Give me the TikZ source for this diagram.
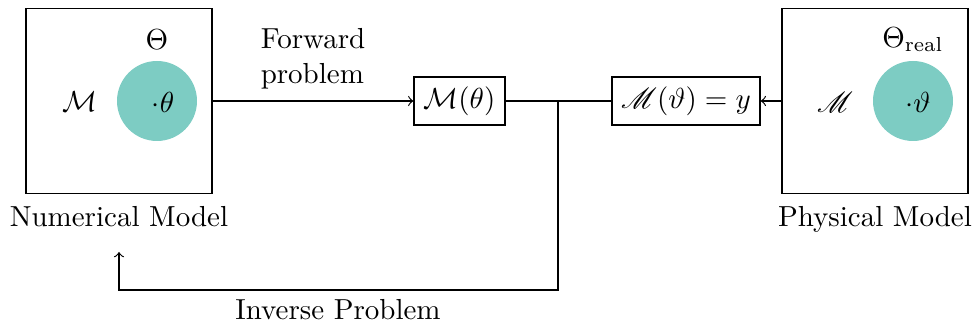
\documentclass[tikz,border=0pt]{standalone}
\usepackage{amsmath,mathrsfs}
\usetikzlibrary{positioning}
\definecolor{blobcolor}{HTML}{7DCCC3}

\begin{document}
\begin{tikzpicture}[
    x=0.345pt, y=-0.345pt,
    model/.style={draw, minimum width=64.2pt, minimum height=63.8pt},
    op/.style={draw, minimum height=16.6pt, inner sep=2.5pt},
    blob/.style={circle, fill=blobcolor, minimum size=27.6pt, inner sep=0pt},
    caption/.style={inner sep=0pt},
]
\useasboundingbox (0,0) rectangle (974,327);

% numerical side
\node[model] (num) at (119,101) {};
\node[blob] (numset) at (157,101) {};
\node (numpar) at (163,102) {$\cdot\theta$};
\node (numspace) at (157,40) {$\Theta$};
\node (nummap) at (80,102) {$\mathcal{M}$};
\node[caption, anchor=north] (numlab) at (119,206) {Numerical Model};

% physical side
\node[model] (phy) at (875,101) {};
\node[blob] (physet) at (913,101) {};
\node (phypar) at (918,102) {$\cdot\vartheta$};
\node (physpace) at (913,40) {$\Theta_{\text{real}}$};
\node (phymap) at (835,102) {$\mathscr{M}$};
\node[caption, anchor=north] (phylab) at (875,206) {Physical Model};

% the two evaluations
\node[op, minimum width=31.4pt] (fwd) at (459.5,101) {$\mathcal{M}(\theta)$};
\node[op, minimum width=51.1pt] (obs) at (686,101) {$\mathscr{M}(\vartheta)=y$};
\node[align=left] (fwdlab) at (313,59) {Forward\\problem};

\draw[->] (num.east) -- (fwd.west);
\draw (fwd.east) -- (obs.west);
\draw[->] (phy.west) -- (obs.east);

% going back
\coordinate (junc) at (558,101);
\coordinate (turn) at (558,290);
\coordinate (back) at (119,252);
\draw[->] (junc) -- (turn) -| (back);
\node (invlab) at (338,310) {Inverse Problem};
\end{tikzpicture}
\end{document}
